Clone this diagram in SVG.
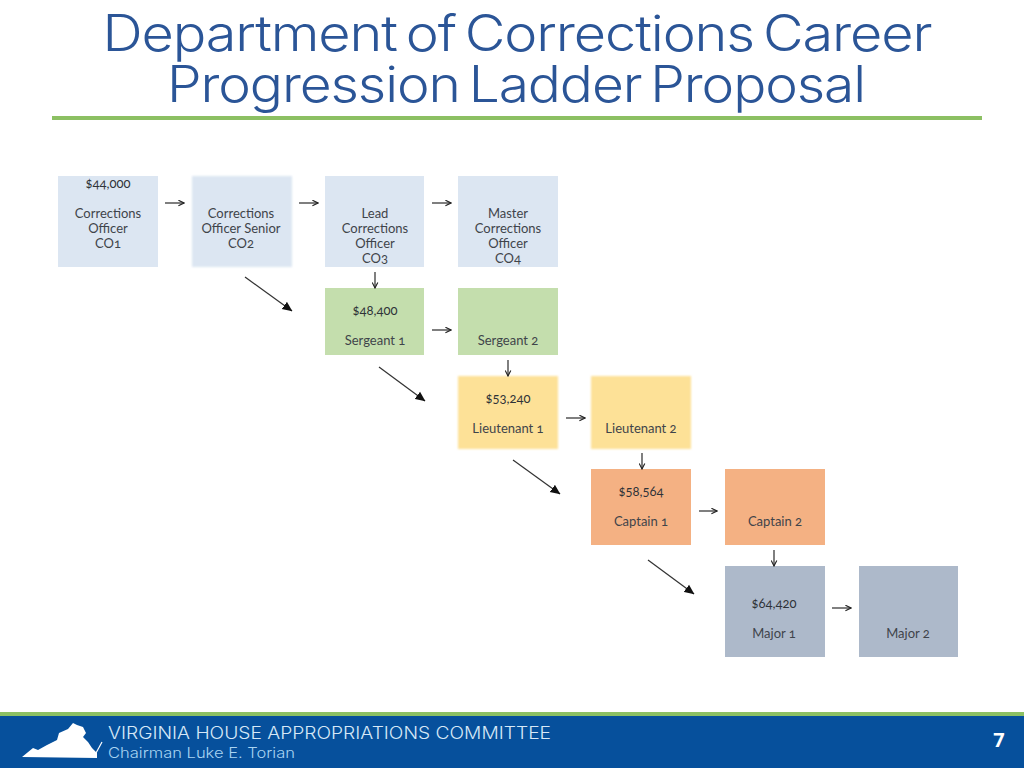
<svg xmlns="http://www.w3.org/2000/svg" width="1024" height="768" viewBox="0 0 1024 768">
<defs>
<marker id="a" viewBox="0 0 10 10" refX="9" refY="5" markerUnits="userSpaceOnUse" markerWidth="7" markerHeight="7" orient="auto"><path d="M1 1L9 5L1 9" fill="none" stroke="#222" stroke-width="1.6"/></marker>
<marker id="d" viewBox="0 0 10 10" refX="9.5" refY="5" markerUnits="userSpaceOnUse" markerWidth="10" markerHeight="10" orient="auto"><path d="M0 0.5L10 5L0 9.5Z" fill="#111"/></marker>
<filter id="soft" x="-5%" y="-5%" width="110%" height="110%"><feGaussianBlur stdDeviation="0.8"/></filter>
</defs>
<style>
.t{font-family:"Inter","Liberation Sans",sans-serif;font-size:50px;font-weight:300;fill:#2b5597;text-anchor:middle;letter-spacing:-1px;word-spacing:-5px}
.n text{font-family:"Lato","Open Sans",sans-serif;font-size:13px;fill:#3f444a;text-anchor:middle;font-variant-numeric:oldstyle-nums;font-feature-settings:"onum"}
.n text.m{fill:#2f3338}
.b{fill:#dce6f2}.g{fill:#c4dead}.y{fill:#fde197;filter:url(#soft)}.o{fill:#f4b183}.s{fill:#adb9ca}
.h{stroke:#2a2a2a;stroke-width:1.2;fill:none;marker-end:url(#a)}
.x{stroke:#333;stroke-width:1.2;fill:none;marker-end:url(#d)}
.f{font-family:"Inter","Liberation Sans",sans-serif;font-weight:300}
</style>
<rect width="1024" height="768" fill="#fff"/>
<g id="title">
<text class="t" x="517" y="51" textLength="829" lengthAdjust="spacingAndGlyphs">Department of Corrections Career</text>
<text class="t" x="516" y="102" textLength="698" lengthAdjust="spacingAndGlyphs">Progression Ladder Proposal</text>
<rect x="52" y="116" width="930" height="4" fill="#8cc063"/>
</g>
<g id="co1" class="n"><rect class="b" x="58" y="176" width="100" height="91"/><text x="108" y="188" class="m">$44,000</text><text x="108" y="218">Corrections</text><text x="108" y="233">Officer</text><text x="108" y="248">CO1</text></g>
<g id="co2" class="n"><rect class="b" x="192" y="176" width="100" height="91" filter="url(#soft)"/><text x="241" y="218">Corrections</text><text x="241" y="233">Officer Senior</text><text x="241" y="248">CO2</text></g>
<g id="co3" class="n"><rect class="b" x="325" y="176" width="99" height="91"/><text x="375" y="218">Lead</text><text x="375" y="233">Corrections</text><text x="375" y="248">Officer</text><text x="375" y="263">CO3</text></g>
<g id="co4" class="n"><rect class="b" x="458" y="176" width="100" height="91"/><text x="508" y="218">Master</text><text x="508" y="233">Corrections</text><text x="508" y="248">Officer</text><text x="508" y="263">CO4</text></g>
<g id="sgt1" class="n"><rect class="g" x="325" y="288" width="99" height="67"/><text x="375" y="315" class="m">$48,400</text><text x="375" y="345">Sergeant 1</text></g>
<g id="sgt2" class="n"><rect class="g" x="458" y="288" width="100" height="67"/><text x="508" y="345">Sergeant 2</text></g>
<g id="lt1" class="n"><rect class="y" x="458" y="376" width="100" height="73"/><text x="508" y="403" class="m">$53,240</text><text x="508" y="433">Lieutenant 1</text></g>
<g id="lt2" class="n"><rect class="y" x="591" y="376" width="100" height="73"/><text x="641" y="433">Lieutenant 2</text></g>
<g id="cpt1" class="n"><rect class="o" x="591" y="469" width="100" height="76"/><text x="641" y="496" class="m">$58,564</text><text x="641" y="526">Captain 1</text></g>
<g id="cpt2" class="n"><rect class="o" x="725" y="469" width="100" height="76"/><text x="775" y="526">Captain 2</text></g>
<g id="maj1" class="n"><rect class="s" x="725" y="566" width="100" height="91"/><text x="774" y="608" class="m">$64,420</text><text x="774" y="638">Major 1</text></g>
<g id="maj2" class="n"><rect class="s" x="859" y="566" width="99" height="91"/><text x="908" y="638">Major 2</text></g>
<g id="connectors">
<path class="h" d="M165 203H184"/><path class="h" d="M299 203H318"/><path class="h" d="M432 203H451"/>
<path class="h" d="M432 330H451"/><path class="h" d="M566 418H585"/><path class="h" d="M699 511H717"/><path class="h" d="M832 608H851"/>
<path class="h" d="M375 272V288"/><path class="h" d="M508 360V376"/><path class="h" d="M642 453V469"/><path class="h" d="M774 550V566"/>
<path class="x" d="M245 277L292 311"/><path class="x" d="M379 367L425 401"/><path class="x" d="M513 460L560 494"/><path class="x" d="M648 560L694 594"/>
</g>
<g id="footer">
<rect y="712" width="1024" height="56" fill="#06509c"/>
<rect y="712" width="1024" height="4" fill="#8cc063"/>
<path d="M22 757L33 748L38 750L47 745L57 740L59 733L68 729L73 723L77 725L83 727L86 733L83 737L88 742L92 748L97 753L97 758Z" fill="#fff"/>
<path d="M96 753L102 742" stroke="#fff" stroke-width="1.2"/>
<text class="f" x="108" y="739" font-size="17" fill="#d6e8f7" textLength="443" lengthAdjust="spacingAndGlyphs">VIRGINIA HOUSE APPROPRIATIONS COMMITTEE</text>
<text class="f" x="108" y="758" font-size="14" fill="#a8d4f2" textLength="187" lengthAdjust="spacingAndGlyphs">Chairman Luke E. Torian</text>
<text x="999" y="747" font-family="Open Sans,Liberation Sans,sans-serif" font-weight="700" font-size="20" fill="#fff" text-anchor="middle">7</text>
</g>
</svg>
